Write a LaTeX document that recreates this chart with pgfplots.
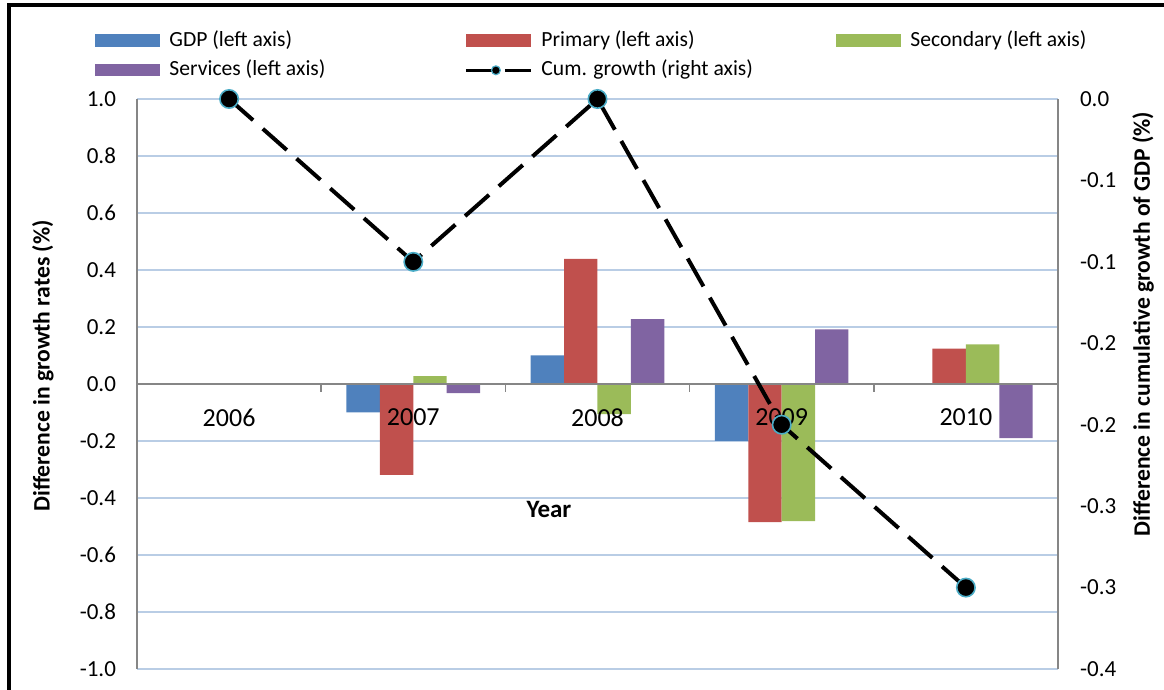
\documentclass[border=0pt]{standalone}
\usepackage{fontspec}
\setmainfont{Carlito}
\usepackage{pgfplots}
\pgfplotsset{compat=1.18}

\definecolor{gdpc}{RGB}{79,129,189}
\definecolor{primc}{RGB}{192,80,77}
\definecolor{secc}{RGB}{155,187,89}
\definecolor{servc}{RGB}{128,100,162}
\definecolor{gridc}{RGB}{185,205,229}
\definecolor{axisgray}{RGB}{134,134,134}
\definecolor{mkc}{RGB}{75,172,198}

\pgfplotsset{
  chartbase/.style={
    at={(68.5pt,10.5pt)}, anchor=south west,
    scale only axis, width=460.5pt, height=285pt,
    xmin=-0.5, xmax=4.5,
    major tick length=0pt,
    scaled y ticks=false,
    /pgf/number format/assume math mode=true,
    /pgf/number format/.cd, fixed, fixed zerofill, precision=1, /pgfplots/.cd,
    yticklabel style={font=\fontsize{11.5}{13}\selectfont},
    axis line style={draw=axisgray, line width=0.75pt},
  },
  lefty/.style={
    ymin=-1, ymax=1,
    ytick={-1,-0.8,-0.6,-0.4,-0.2,0,0.2,0.4,0.6,0.8,1},
  },
}

\begin{document}
\begin{tikzpicture}
\useasboundingbox (0pt,0pt) rectangle (582pt,345pt);
\draw[line width=2pt] (4.5pt,342.5pt) -- (582pt,342.5pt);
\draw[line width=2pt] (4.5pt,0pt) -- (4.5pt,343.5pt);

% grid only, drawn first so it stays behind the bars
\begin{axis}[
  chartbase, lefty,
  axis line style={draw=none},
  yticklabels={}, xtick=\empty,
  ymajorgrids, grid style={draw=gridc, line width=0.6pt},
]
\end{axis}

% bars, left axis
\begin{axis}[
  chartbase, lefty,
  axis on top,
  axis y line*=left, axis x line*=middle,
  ybar=0pt, bar width=16.7pt,
  yticklabel style={xshift=-7pt},
  xtick={0,1,2,3,4},
  xticklabels={2006,2007,2008,2009,2010},
  xticklabel style={font=\fontsize{13}{15}\selectfont, yshift=-8.7pt},
  extra x ticks={-0.5,0.5,1.5,2.5,3.5,4.5},
  extra x tick labels={},
  extra x tick style={major tick length=4pt, tick align=outside,
    tick style={draw=axisgray, line width=0.75pt}},
  xlabel={Year},
  xlabel style={at={(axis description cs:0.4473,0.2807)}, anchor=center,
    font=\bfseries\fontsize{12.5}{14}\selectfont},
  ylabel={Difference in growth rates (\%)},
  ylabel style={at={(axis description cs:-0.1021,0.5316)}, anchor=center,
    font=\bfseries\fontsize{11.8}{14}\selectfont},
  legend columns=3,
  legend cell align=left,
  legend image code/.code={\fill[#1] (0pt,-3.1pt) rectangle (32.5pt,3.1pt);},
  legend style={at={(axis description cs:-0.0456,1.1202)}, anchor=north west,
    draw=none, fill=none, inner sep=0pt, column sep=4.5pt, row sep=5pt,
    font=\fontsize{10.8}{13}\selectfont,
    nodes={inner sep=0pt, text height=7.6pt, text depth=2.2pt}},
]
\addplot[fill=gdpc, draw=none] coordinates {(0,0) (1,-0.10) (2,0.10) (3,-0.20) (4,0)};
\addlegendentry{\makebox[143pt][l]{GDP (left axis)}}
\addplot[fill=primc, draw=none] coordinates {(0,0) (1,-0.319) (2,0.439) (3,-0.485) (4,0.124)};
\addlegendentry{\makebox[143pt][l]{Primary (left axis)}}
\addplot[fill=secc, draw=none] coordinates {(0,0) (1,0.028) (2,-0.106) (3,-0.481) (4,0.139)};
\addlegendentry{Secondary (left axis)}
\addplot[fill=servc, draw=none] coordinates {(0,0) (1,-0.032) (2,0.228) (3,0.192) (4,-0.190)};
\addlegendentry{\makebox[143pt][l]{Services (left axis)}}
\addlegendimage{legend image code/.code={
  \draw[black, line width=1.5pt] (0pt,0pt) -- (14pt,0pt);
  \draw[black, line width=1.5pt] (19.5pt,0pt) -- (32.5pt,0pt);
  \draw[fill=black, draw=mkc, line width=0.6pt] (15pt,0pt) circle (2.2pt);}}
\addlegendentry{\makebox[143pt][l]{Cum. growth (right axis)}}
\end{axis}

% cumulative growth, right axis
\begin{axis}[
  chartbase,
  ymin=-0.4, ymax=0,
  axis y line*=right, axis x line=none,
  clip=false,
  ytick={0,-0.0571429,-0.1142857,-0.1714286,-0.2285714,-0.2857143,-0.3428571,-0.4},
  yticklabel style={xshift=7.5pt},
  ylabel={Difference in cumulative growth of GDP (\%)},
  ylabel style={at={(axis description cs:1.0923,0.6053)}, anchor=center,
    font=\bfseries\fontsize{11.8}{14}\selectfont},
]
\addplot[black, line width=2pt, dash pattern=on 16pt off 6.5pt,
  mark=*, mark size=4.6pt,
  mark options={solid, fill=black, draw=mkc, line width=0.8pt}]
  coordinates {(0,0) (1,-0.1142857) (2,0) (3,-0.2285714) (4,-0.3428571)};
\end{axis}
\end{tikzpicture}
\end{document}
